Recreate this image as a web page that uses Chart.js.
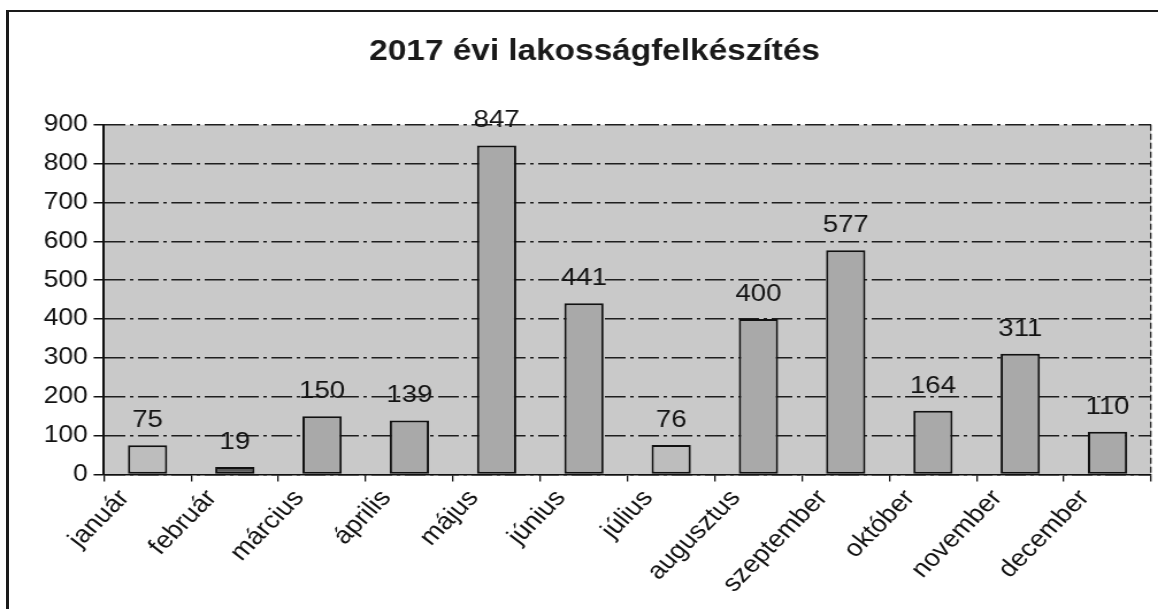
<!DOCTYPE html>
<html lang="hu">
<head>
<meta charset="utf-8">
<title>2017 évi lakosságfelkészítés</title>
<script src="https://cdn.jsdelivr.net/npm/chart.js@4/dist/chart.umd.min.js"></script>
<style>
  html, body { margin: 0; padding: 0; background: #fff; overflow: hidden; }
  /* the sheet is drawn narrow and widened, like the exported workbook image */
  #wrap { position: absolute; left: 0; top: 0; width: 1007px; height: 609px;
          transform: scaleX(1.15); transform-origin: 0 0; }
  #frame { position: absolute; left: 6px; top: 10px; width: 1149px; height: 597px;
           border-left: 3px solid #1a1a1a; border-top: 2px solid #1a1a1a; pointer-events: none; }
</style>
</head>
<body>
<div id="wrap"><canvas id="chart" width="1007" height="609"></canvas></div>
<div id="frame"></div>
<script>
// ---- data ----
const TITLE = "2017 évi lakosságfelkészítés";
const months = ["január", "február", "március", "április", "május", "június",
                "július", "augusztus", "szeptember", "október", "november", "december"];
const participants = [75, 19, 150, 139, 847, 441, 76, 400, 577, 164, 311, 110];
const yMax = 900;
const yStep = 100;

const FONT = "'Liberation Sans', Arial, Helvetica, sans-serif";

// january / july bars are lighter, february darker
function barFill(i) {
  if (i === 0 || i === 6) return "#bdbdbd";
  if (i === 1) return "#5a5a5a";
  return "#a9a9a9";
}

// grey plot area behind grid + bars
const plotBg = {
  id: "plotBg",
  beforeDraw(chart) {
    const { ctx, chartArea: a } = chart;
    ctx.save();
    ctx.fillStyle = "#c9c9c9";
    ctx.fillRect(a.left, a.top, a.right - a.left, a.bottom - a.top);
    ctx.restore();
  }
};

// numbers above every bar
const valueLabels = {
  id: "valueLabels",
  afterDatasetsDraw(chart) {
    const ctx = chart.ctx;
    const meta = chart.getDatasetMeta(0);
    ctx.save();
    ctx.font = "24px " + FONT;
    ctx.fillStyle = "#141414";
    ctx.textAlign = "center";
    ctx.textBaseline = "alphabetic";
    meta.data.forEach((bar, i) => {
      ctx.fillText(String(participants[i]), bar.x, bar.y - 18);
    });
    ctx.restore();
  }
};

new Chart(document.getElementById("chart"), {
  type: "bar",
  data: {
    labels: months,
    datasets: [{
      data: participants,
      backgroundColor: months.map((m, i) => barFill(i)),
      borderColor: "#111",
      borderWidth: 2,
      borderSkipped: false,
      barPercentage: 0.45,
      categoryPercentage: 1
    }]
  },
  options: {
    responsive: false,
    animation: false,
    devicePixelRatio: 1,
    layout: { padding: { left: 33, right: 6, top: 0, bottom: 8 } },
    plugins: {
      legend: { display: false },
      tooltip: { enabled: false },
      title: {
        display: true,
        text: TITLE,
        color: "#1a1a1a",
        font: { family: FONT, size: 29, weight: "bold" },
        padding: { top: 35, bottom: 55 }
      }
    },
    scales: {
      x: {
        grid: {
          offset: true,
          // only the right edge of the plot gets a (dashed) line
          color: c => (c.type === "tick" ? "transparent" : "#222"),
          lineWidth: 1.3,
          tickColor: "#111",
          tickLength: 7
        },
        border: { color: "#111", width: 1.6, dash: [6, 3] },
        ticks: {
          color: "#111",
          font: { family: FONT, size: 24 },
          minRotation: 49,
          maxRotation: 49,
          autoSkip: false,
          labelOffset: -20,
          padding: 3
        }
      },
      y: {
        min: 0,
        max: yMax,
        grid: {
          color: "#1e1e1e",
          lineWidth: 1.5,
          tickColor: "#111",
          tickLength: 9
        },
        border: { color: "#111", width: 2, dash: [18, 4, 3, 4] },
        ticks: {
          stepSize: yStep,
          color: "#111",
          font: { family: FONT, size: 23 },
          padding: 5
        }
      }
    }
  },
  plugins: [plotBg, valueLabels]
});
</script>
</body>
</html>
